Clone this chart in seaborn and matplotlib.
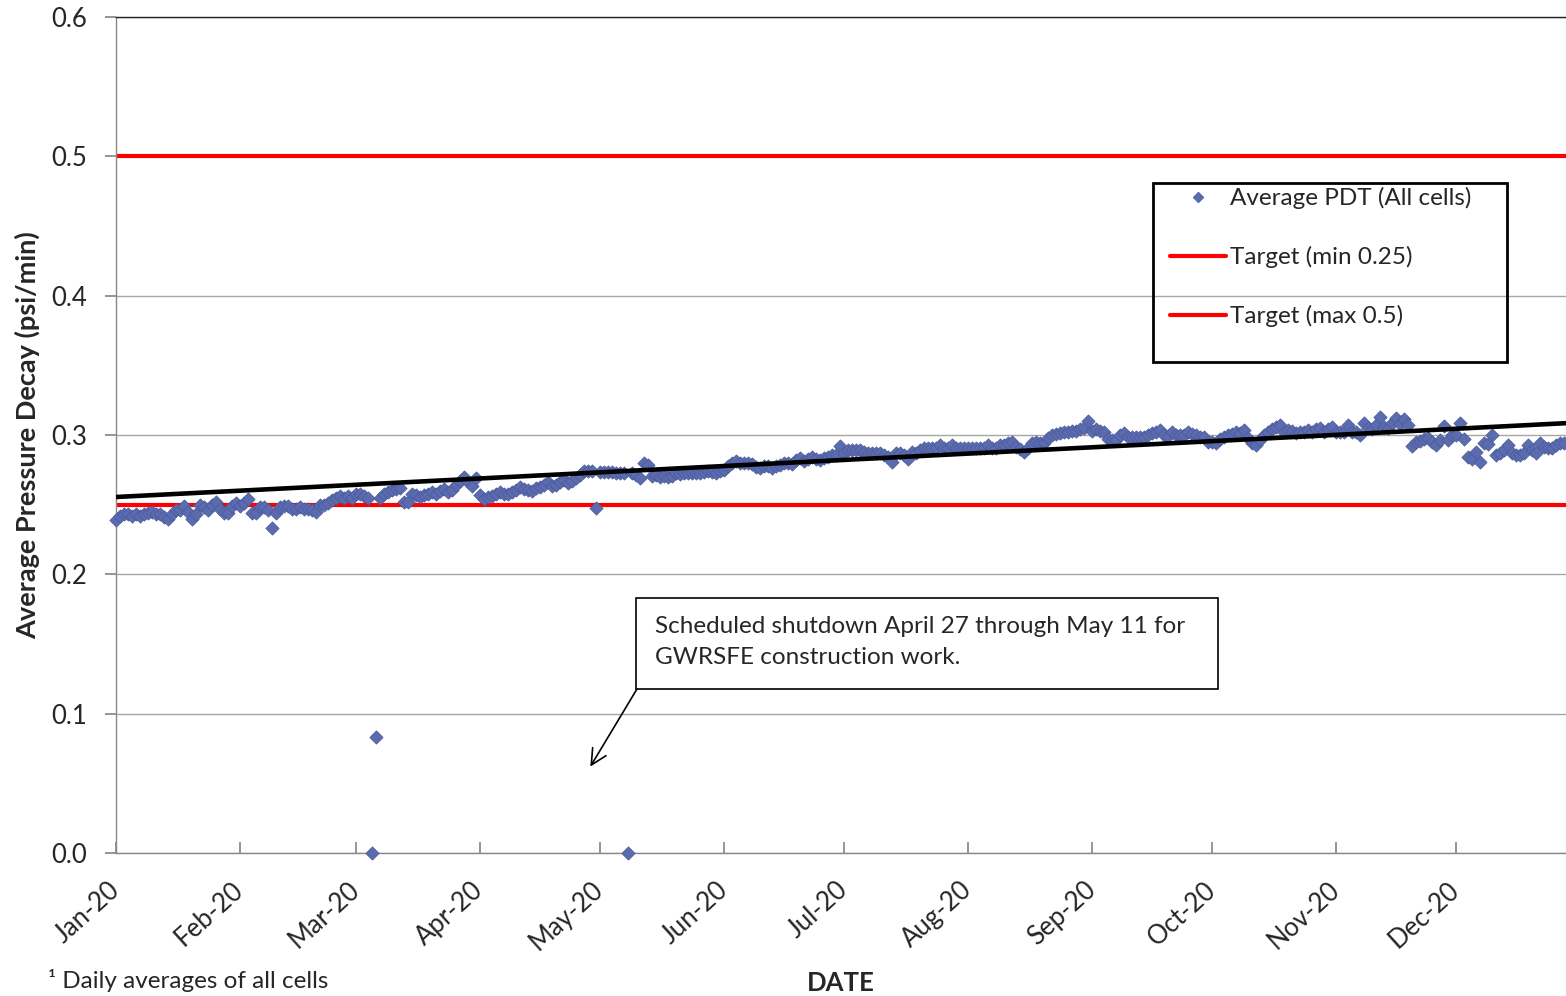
import pandas as pd
import matplotlib.pyplot as plt
import matplotlib.dates as mdates
from matplotlib.lines import Line2D
from matplotlib.patches import Rectangle
import seaborn as sns

# daily average pressure decay (psi/min), 2020, one list per month
jan = [0.239, 0.242, 0.243, 0.243, 0.242, 0.243, 0.242, 0.243, 0.244, 0.245,
       0.243, 0.243, 0.241, 0.240, 0.243, 0.246, 0.246, 0.249, 0.245, 0.240,
       0.243, 0.250, 0.248, 0.246, 0.250, 0.252, 0.247, 0.244, 0.244, 0.249,
       0.251]
feb = [0.249, 0.251, 0.254, 0.244, 0.244, 0.248, 0.248, 0.246, 0.233, 0.244,
       0.248, 0.249, 0.249, 0.247, 0.247, 0.248, 0.247, 0.247, 0.246, 0.245,
       0.250, 0.250, 0.251, 0.253, 0.255, 0.256, 0.255, 0.256, 0.255]
mar = [0.258, 0.258, 0.256, 0.255, 0.0, 0.083, 0.255, 0.258, 0.259, 0.2605,
       0.261, 0.262, 0.252, 0.252, 0.258, 0.257, 0.2555, 0.257, 0.258, 0.259,
       0.258, 0.260, 0.261, 0.259, 0.2605, 0.264, 0.267, 0.270, 0.266, 0.2635,
       0.269]
apr = [0.257, 0.254, 0.2555, 0.256, 0.258, 0.259, 0.258, 0.258, 0.259, 0.2605,
       0.2625, 0.261, 0.2605, 0.260, 0.262, 0.2625, 0.264, 0.266, 0.2635, 0.264,
       0.266, 0.2675, 0.2655, 0.267, 0.269, 0.271, 0.274, 0.274, 0.274, 0.2475]
may = [0.2735, 0.2735, 0.2735, 0.2735, 0.273, 0.2725, 0.2725, 0.0, 0.2725, 0.271,
       0.269, 0.280, 0.2785, 0.2705, 0.271, 0.270, 0.2705, 0.270, 0.2705, 0.2725,
       0.272, 0.2725, 0.273, 0.2725, 0.2725, 0.273, 0.2735, 0.274, 0.2735, 0.2725,
       0.274]
jun = [0.275, 0.2775, 0.280, 0.2815, 0.280, 0.280, 0.280, 0.279, 0.277, 0.276,
       0.278, 0.278, 0.276, 0.278, 0.2785, 0.280, 0.280, 0.279, 0.282, 0.2835,
       0.281, 0.2825, 0.284, 0.283, 0.282, 0.2835, 0.284, 0.2855, 0.286, 0.292]
jul = [0.287, 0.289, 0.289, 0.289, 0.289, 0.288, 0.287, 0.287, 0.287, 0.287,
       0.286, 0.284, 0.2805, 0.287, 0.287, 0.286, 0.283, 0.288, 0.287, 0.289,
       0.2905, 0.2905, 0.2905, 0.291, 0.2925, 0.291, 0.2905, 0.2925, 0.291, 0.2905,
       0.2905]
aug = [0.2905, 0.2905, 0.2905, 0.2905, 0.291, 0.2925, 0.2905, 0.291, 0.2925, 0.293,
       0.294, 0.295, 0.2915, 0.290, 0.288, 0.291, 0.294, 0.295, 0.294, 0.294,
       0.2975, 0.300, 0.3005, 0.3015, 0.302, 0.302, 0.303, 0.303, 0.304, 0.305,
       0.310]
sep = [0.303, 0.304, 0.303, 0.302, 0.297, 0.2965, 0.2965, 0.300, 0.3015, 0.2985,
       0.2985, 0.2985, 0.2985, 0.2985, 0.300, 0.3015, 0.302, 0.3035, 0.300, 0.299,
       0.302, 0.300, 0.300, 0.300, 0.302, 0.301, 0.300, 0.2985, 0.2985, 0.295]
oct_ = [0.295, 0.294, 0.297, 0.2985, 0.300, 0.301, 0.302, 0.3015, 0.3035, 0.2975,
        0.294, 0.2925, 0.2965, 0.300, 0.302, 0.304, 0.3055, 0.307, 0.302, 0.3035,
        0.303, 0.3015, 0.302, 0.302, 0.3035, 0.302, 0.304, 0.305, 0.302, 0.304,
        0.3055]
nov = [0.302, 0.302, 0.302, 0.307, 0.302, 0.302, 0.300, 0.3085, 0.305, 0.304,
       0.307, 0.313, 0.306, 0.305, 0.3085, 0.312, 0.308, 0.3115, 0.307, 0.292,
       0.295, 0.296, 0.297, 0.298, 0.295, 0.2925, 0.2965, 0.3065, 0.2965, 0.300]
dec = [0.300, 0.3085, 0.297, 0.284, 0.283, 0.288, 0.2805, 0.294, 0.2935, 0.300,
       0.2855, 0.287, 0.289, 0.2925, 0.287, 0.2855, 0.286, 0.287, 0.2925, 0.289,
       0.287, 0.294, 0.2915, 0.2905, 0.2905, 0.2925, 0.294, 0.294]

pdt_values = jan + feb + mar + apr + may + jun + jul + aug + sep + oct_ + nov + dec
dates = pd.date_range("2020-01-01", periods=len(pdt_values), freq="D")

target_min = 0.25
target_max = 0.5

# linear trendline
trend_dates = [pd.Timestamp("2020-01-01"), pd.Timestamp("2020-12-28 12:00")]
trend_values = [0.2555, 0.3085]

legend_labels = ["Average PDT (All cells)", "Target (min 0.25)", "Target (max 0.5)"]
note_text = "Scheduled shutdown April 27 through May 11 for\nGWRSFE construction work."
note_target = (pd.Timestamp("2020-04-28 14:00"), 0.062)

sns.set_theme(style="white")
plt.rcParams['font.family'] = ['Lato', 'DejaVu Sans']
plt.rcParams['font.size'] = 17.5

W, H = 1566, 996
fig = plt.figure(figsize=(W / 100, H / 100), dpi=100)
ax = fig.add_axes([116 / W, 1 - 853 / H, 1 - 116 / W, (853 - 17) / H])

marker_color = '#5b6bb0'

ax.axhline(target_min, color='#ff0000', lw=3, zorder=2)
ax.axhline(target_max, color='#ff0000', lw=3, zorder=2)
sns.scatterplot(x=dates, y=pdt_values, marker='D', s=46, color=marker_color,
                edgecolor='#4a5998', linewidth=0.5, ax=ax, zorder=3, clip_on=False)
sns.lineplot(x=trend_dates, y=trend_values, color='black', lw=3.3, ax=ax, zorder=4)

ax.set_xlim(pd.Timestamp("2020-01-01"), pd.Timestamp("2020-12-28 12:00"))
ax.set_ylim(0, 0.6)
ax.set_yticks([0.0, 0.1, 0.2, 0.3, 0.4, 0.5, 0.6])
ax.yaxis.set_major_formatter(plt.FuncFormatter(lambda v, p: f"{v:.1f}"))
ax.xaxis.set_major_locator(mdates.MonthLocator())
ax.xaxis.set_major_formatter(mdates.DateFormatter('%b-%y'))
ax.grid(axis='y', color='#a6a6a6', lw=1)
ax.set_axisbelow(True)

ax.spines['right'].set_visible(False)
ax.spines['top'].set_color('#222222')
ax.spines['top'].set_linewidth(1)
for side in ['left', 'bottom']:
    ax.spines[side].set_color('#888888')
    ax.spines[side].set_linewidth(1)

ax.tick_params(axis='x', which='major', direction='in', length=8, color='#888888',
               labelsize=18.5, pad=24, bottom=True)
ax.tick_params(axis='y', which='major', direction='out', length=8, color='#888888',
               labelsize=18.5, pad=13, left=True)
plt.setp(ax.get_xticklabels(), rotation=42, ha='right', va='center',
         rotation_mode='anchor')

ax.set_xlabel("DATE", fontweight='bold', fontsize=18.5)
ax.xaxis.set_label_coords(0.5, -0.141)
ax.set_ylabel("Average Pressure Decay (psi/min)", fontweight='bold', fontsize=19.5)
ax.yaxis.set_label_coords(-0.052, 0.5)

# legend with an Excel-style box
handles = [Line2D([], [], marker='D', ls='', color=marker_color, markersize=5.5),
           Line2D([], [], color='#ff0000', lw=3),
           Line2D([], [], color='#ff0000', lw=3)]
ax.legend(handles, legend_labels, loc='upper left',
          bbox_to_anchor=(1170 / W, 1 - 187 / H), bbox_transform=fig.transFigure,
          frameon=False, fontsize=17.5, labelspacing=1.52, handlelength=2.3,
          handletextpad=0.15, borderpad=0, borderaxespad=0)
fig.patches.append(Rectangle((1153 / W, 1 - 362 / H), (1507 - 1153) / W, (362 - 183) / H,
                             transform=fig.transFigure, fill=False, ec='black', lw=2))

# shutdown note: box, text and arrow
fig.patches.append(Rectangle((636 / W, 1 - 689 / H), (1218 - 636) / W, (689 - 598) / H,
                             transform=fig.transFigure, fc='white', ec='black', lw=1.2,
                             zorder=5))
fig.text(655 / W, 1 - 642 / H, note_text, fontsize=17.5, ha='left', va='center',
         linespacing=1.55, zorder=6)
ax.annotate('', xy=note_target, xycoords='data',
            xytext=(637, H - 689), textcoords='figure pixels',
            arrowprops=dict(arrowstyle='->', color='black', lw=1.2,
                            shrinkA=0, shrinkB=0, mutation_scale=28))

fig.text(48 / W, 1 - 980 / H, "\u00b9 Daily averages of all cells", fontsize=17.5, va='center')

fig.savefig("out.png", dpi=100)
